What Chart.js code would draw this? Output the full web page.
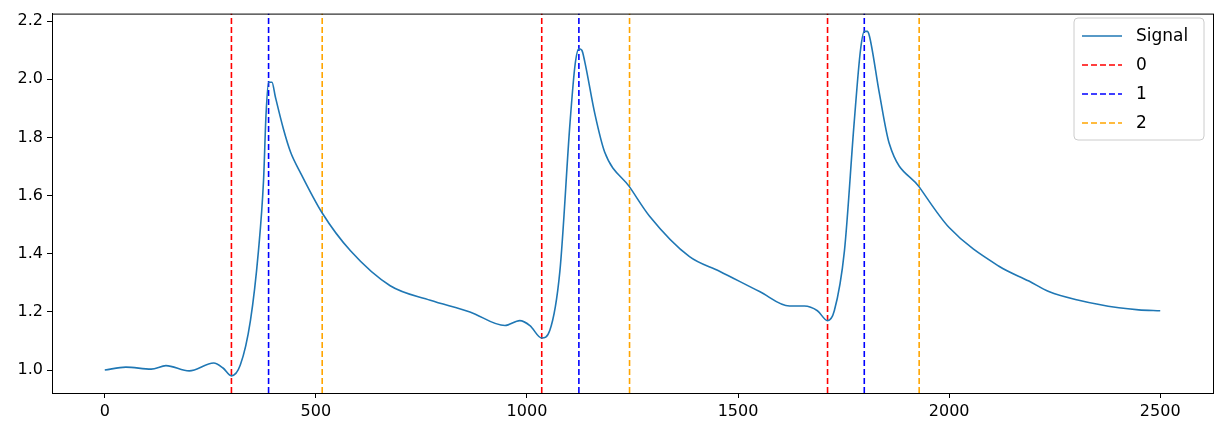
<!DOCTYPE html>
<html><head><meta charset="utf-8">
<script src="https://cdn.jsdelivr.net/npm/chart.js@4/dist/chart.umd.min.js"></script>
<style>html,body{margin:0;padding:0;background:#fff}#w{width:1223px;height:433px}</style>
</head><body><div id="w"><canvas id="c"></canvas></div>
<script>
const signalX=[0,50,110,145,200,258,280,300,321,345,364,376,382,388,396,404,423,440,463,515,582,676,771,865,948,983,1007,1035,1054,1078,1102,1114,1123,1130,1137,1161,1184,1243,1290,1385,1456,1551,1622,1657,1688,1712,1728,1752,1775,1790,1799,1806,1811,1835,1858,1929,2000,2118,2189,2236,2307,2402,2449,2500];
const signalY=[1.0,1.01,1.003,1.015,0.997,1.024,1.007,0.98,1.017,1.17,1.41,1.65,1.88,1.99,1.99,1.94,1.83,1.75,1.68,1.54,1.41,1.29,1.24,1.2,1.153,1.17,1.153,1.11,1.136,1.34,1.85,2.05,2.105,2.1,2.06,1.88,1.75,1.63,1.53,1.39,1.34,1.27,1.22,1.22,1.204,1.17,1.204,1.41,1.85,2.1,2.165,2.165,2.15,1.95,1.78,1.63,1.49,1.357,1.306,1.27,1.24,1.214,1.207,1.204];
const marks0=[300,1035,1712];
const marks1=[388,1123,1799];
const marks2=[515,1243,1929];
const legendLabels=['Signal','0','1','2'];
const YMIN=0.921,YMAX=2.226;
const sig={label:'Signal',data:signalX.map((x,i)=>({x,y:signalY[i]})),borderColor:'#1f77b4',borderWidth:1.6,pointRadius:0,cubicInterpolationMode:'monotone',order:0};
const vl=(arr,col)=>arr.map(x=>({data:[{x,y:YMIN},{x,y:YMAX}],borderColor:col,borderWidth:1.6,borderDash:[6,3],pointRadius:0,order:1}));
const datasets=[sig,...vl(marks0,'red'),...vl(marks1,'blue'),...vl(marks2,'orange')];
const frame={id:'frame',afterDraw(ch){const a=ch.chartArea,c=ch.ctx;c.save();c.strokeStyle='#000';c.lineWidth=1;c.strokeRect(a.left+0.5,a.top+0.5,a.right-a.left,a.bottom-a.top);
const cols=['#1f77b4','red','blue','orange'];const bx=1074,by=18,bw=130,bh=122;
c.fillStyle='rgba(255,255,255,0.8)';c.strokeStyle='#ccc';c.beginPath();c.roundRect(bx,by,bw,bh,4);c.fill();c.stroke();
c.font='17px "DejaVu Sans"';c.textBaseline='middle';
legendLabels.forEach((t,i)=>{const y=by+18+i*29;c.strokeStyle=cols[i];c.lineWidth=1.6;c.setLineDash(i?[6,3]:[]);c.beginPath();c.moveTo(bx+8,y);c.lineTo(bx+48,y);c.stroke();c.setLineDash([]);c.fillStyle='#000';c.fillText(t,bx+62,y+1);});
c.restore();}};
new Chart(document.getElementById('c'),{type:'line',data:{datasets},plugins:[frame],
options:{responsive:true,maintainAspectRatio:false,animation:false,
layout:{padding:{top:7,right:10,left:0,bottom:0}},
plugins:{legend:{display:false},tooltip:{enabled:false}},
scales:{x:{type:'linear',min:-125,max:2625,afterBuildTicks(s){s.ticks=[0,500,1000,1500,2000,2500].map(v=>({value:v}));},afterFit(s){s.height=40;},
grid:{drawOnChartArea:false,drawTicks:true,tickLength:5,color:'#000'},border:{color:'#000'},
ticks:{color:'#000',font:{family:'DejaVu Sans',size:16},padding:4,maxRotation:0,callback:v=>String(v)}},
y:{min:YMIN,max:YMAX,afterBuildTicks(s){s.ticks=[1.0,1.2,1.4,1.6,1.8,2.0,2.2].map(v=>({value:v}));},afterFit(s){s.width=52;},
grid:{drawOnChartArea:false,drawTicks:true,tickLength:5,color:'#000'},border:{color:'#000'},
ticks:{color:'#000',font:{family:'DejaVu Sans',size:16},padding:4,callback:v=>v.toFixed(1)}}}}});
</script></body></html>
